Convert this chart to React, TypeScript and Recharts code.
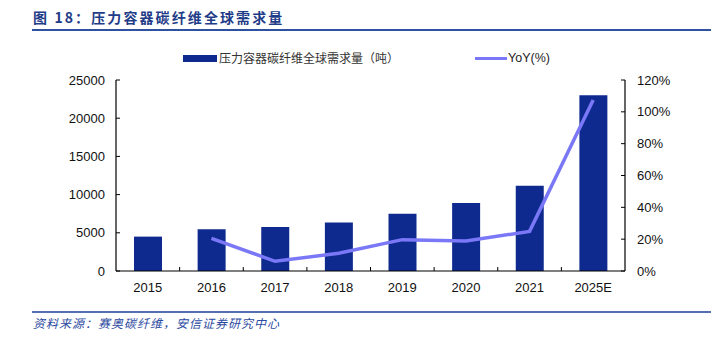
import React from 'react';
import { ComposedChart, Bar, Line, XAxis, YAxis } from 'recharts';

const years = ['2015', '2016', '2017', '2018', '2019', '2020', '2021', '2025E'];
const demand = [4500, 5450, 5750, 6350, 7500, 8900, 11150, 23000];
const yoy: (number | null)[] = [null, 20.5, 6.1, 11.1, 19.7, 18.8, 24.9, 107.4];
const leftTicks = [0, 5000, 10000, 15000, 20000, 25000];
const rightTicks = [0, 20, 40, 60, 80, 100, 120];

const data = years.map((year, i) => ({ year, demand: demand[i], yoy: yoy[i] }));

const W = 711;
const H = 342;
const PLOT_LEFT = 116;
const PLOT_RIGHT = 625;
const PLOT_TOP = 80;
const PLOT_BOTTOM = 271;
const STEP = (PLOT_RIGHT - PLOT_LEFT) / years.length;

const BAR = '#0F2A8E';
const LINE = '#7B78F7';
const TITLE = '#1F3C88';
const FONT = '"Liberation Sans", Arial, "Noto Sans CJK SC", sans-serif';
const CJK = '"Noto Sans CJK SC", "Liberation Sans", sans-serif';

function XTick(props: any) {
  const { x, y, payload, index } = props;
  return (
    <g>
      {index > 0 && (
        <line x1={x - STEP / 2} x2={x - STEP / 2} y1={y} y2={y - 4} stroke="#000" strokeWidth={1} />
      )}
      <text x={x} y={y + 21} textAnchor="middle" fontSize={13} fontFamily={FONT} fill="#111">
        {payload.value}
      </text>
    </g>
  );
}

export default function App() {
  return (
    <div style={{ position: 'absolute', left: 0, top: 0, width: W, height: H, background: '#fff' }}>
      <div
        style={{
          position: 'absolute', left: 33, top: 7, fontFamily: CJK, fontWeight: 700,
          fontSize: 14, letterSpacing: 2.1, color: TITLE, lineHeight: '20px', whiteSpace: 'nowrap',
        }}
      >
        图 18：压力容器碳纤维全球需求量
      </div>
      <div style={{ position: 'absolute', left: 32, top: 29, width: W - 32, height: 2, background: '#2E52A0' }} />

      {/* legend */}
      <div style={{ position: 'absolute', left: 183, top: 55, width: 34, height: 7, background: BAR }} />
      <div
        style={{
          position: 'absolute', left: 219, top: 50, fontFamily: CJK, fontSize: 12,
          color: '#333', lineHeight: '16px', whiteSpace: 'nowrap',
        }}
      >
        压力容器碳纤维全球需求量（吨）
      </div>
      <div style={{ position: 'absolute', left: 475, top: 57, width: 32, height: 3, background: LINE }} />
      <div
        style={{
          position: 'absolute', left: 508, top: 50, fontFamily: FONT, fontSize: 12.5,
          color: '#222', lineHeight: '16px', whiteSpace: 'nowrap',
        }}
      >
        YoY(%)
      </div>

      <div style={{ position: 'absolute', left: 0, top: 0 }}>
        <ComposedChart
          width={W}
          height={H}
          data={data}
          margin={{ top: PLOT_TOP, right: 0, bottom: H - PLOT_BOTTOM - 30, left: 0 }}
          barCategoryGap="28%"
        >
          <XAxis
            dataKey="year"
            height={30}
            tick={<XTick />}
            tickLine={false}
            tickSize={0}
            tickMargin={0}
            axisLine={{ stroke: '#000', strokeWidth: 1.2 }}
            interval={0}
          />
          <YAxis
            yAxisId="left"
            width={PLOT_LEFT}
            domain={[0, 25000]}
            ticks={leftTicks}
            interval={0}
            tickSize={-4}
            tickMargin={15}
            axisLine={{ stroke: '#000', strokeWidth: 1.2 }}
            tickLine={{ stroke: '#000' }}
            tick={{ fontSize: 13, fontFamily: FONT, fill: '#111' }}
          />
          <YAxis
            yAxisId="right"
            orientation="right"
            width={W - PLOT_RIGHT}
            domain={[0, 120]}
            ticks={rightTicks}
            interval={0}
            tickSize={-4}
            tickMargin={16}
            tickFormatter={(v: number) => `${v}%`}
            axisLine={{ stroke: '#000', strokeWidth: 1.2 }}
            tickLine={{ stroke: '#000' }}
            tick={{ fontSize: 13, fontFamily: FONT, fill: '#111', textAnchor: 'start' }}
          />
          <Bar yAxisId="left" dataKey="demand" fill={BAR} barSize={28} isAnimationActive={false} />
          <Line
            yAxisId="right"
            dataKey="yoy"
            type="linear"
            stroke={LINE}
            strokeWidth={3.5}
            dot={false}
            isAnimationActive={false}
          />
        </ComposedChart>
      </div>

      <div style={{ position: 'absolute', left: 32, top: 311, width: W - 32, height: 2, background: '#5470B2' }} />
      <div
        style={{
          position: 'absolute', left: 33, top: 315, fontFamily: CJK, fontStyle: 'italic',
          fontSize: 12, letterSpacing: 1, color: '#2B4AA0', lineHeight: '16px', whiteSpace: 'nowrap',
        }}
      >
        资料来源：赛奥碳纤维，安信证券研究中心
      </div>
    </div>
  );
}
